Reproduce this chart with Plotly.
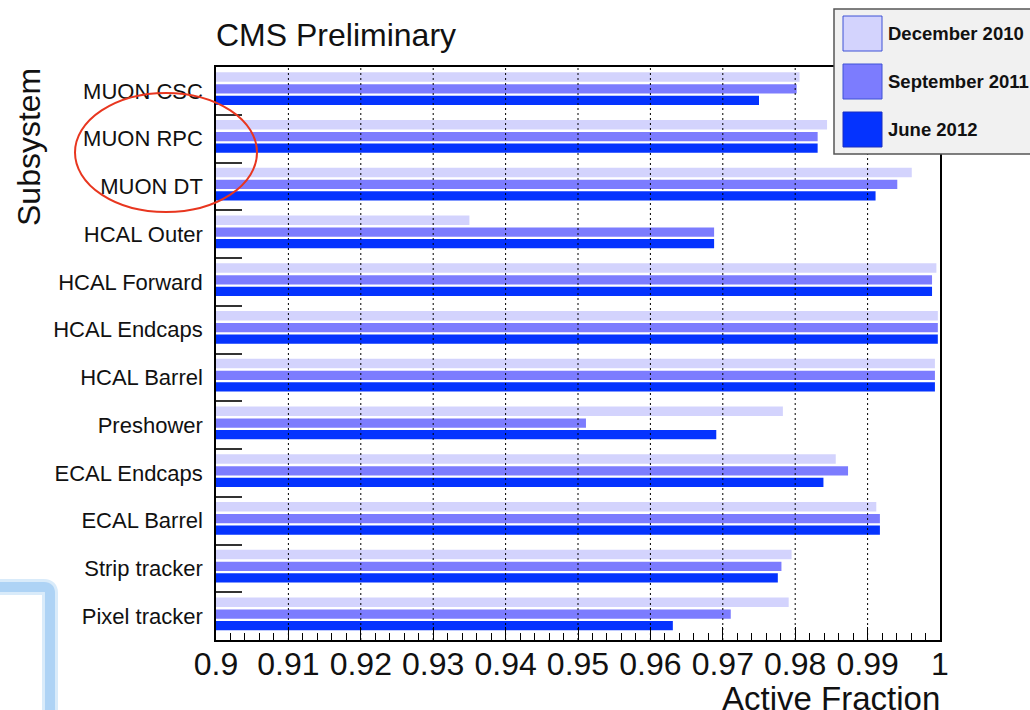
import plotly.graph_objects as go

# Subsystems, listed bottom to top
SUBSYSTEMS = [
    "Pixel tracker", "Strip tracker", "ECAL Barrel", "ECAL Endcaps",
    "Preshower", "HCAL Barrel", "HCAL Endcaps", "HCAL Forward",
    "HCAL Outer", "MUON DT", "MUON RPC", "MUON CSC",
]

# Active fraction per subsystem for each period
DEC_2010 = [0.9791, 0.9795, 0.9912, 0.9856, 0.9783, 0.9993, 0.9997, 0.9995,
            0.9350, 0.9961, 0.9844, 0.9806]
SEP_2011 = [0.9711, 0.9781, 0.9917, 0.9873, 0.9511, 0.9993, 0.9997, 0.9989,
            0.9688, 0.9941, 0.9831, 0.9802]
JUN_2012 = [0.9631, 0.9776, 0.9917, 0.9839, 0.9691, 0.9993, 0.9997, 0.9989,
            0.9688, 0.9911, 0.9831, 0.9750]

SERIES_NAMES = ["December 2010", "September 2011", "June 2012"]
SERIES_COLORS = ["#d3d3fd", "#7c7cfe", "#0533fe"]
SERIES_EDGES = ["#3f52d6", "#3f52d6", "#1b2fc0"]

X_TICKS = [0.90, 0.91, 0.92, 0.93, 0.94, 0.95, 0.96, 0.97, 0.98, 0.99, 1.00]
X_TICK_TEXT = ["0.9", "0.91", "0.92", "0.93", "0.94", "0.95", "0.96",
               "0.97", "0.98", "0.99", "1"]

FONT = "Liberation Sans, Arial, Helvetica, sans-serif"

# Figure / plot-area geometry in pixels
FIG_W, FIG_H = 1030, 710
L, R, T, B = 216, 940, 67, 640
W, H = R - L, B - T


def px(x):
    return (x - L) / W


def py(y):
    return (B - y) / H


fig = go.Figure()

# bar width and position of each bar inside its category band
BAR_W = 0.195
OFFSETS = [0.193, -0.057, -0.297]
for name, vals, col, off in zip(SERIES_NAMES, [DEC_2010, SEP_2011, JUN_2012],
                                SERIES_COLORS, OFFSETS):
    fig.add_trace(go.Bar(
        name=name, y=SUBSYSTEMS, x=vals, orientation="h",
        width=BAR_W, offset=off,
        marker=dict(color=col, line=dict(width=0)),
        showlegend=False,
    ))

shapes = []

# dotted grid at the major ticks, drawn over the bars
for v in X_TICKS[1:-1]:
    shapes.append(dict(type="line", xref="x", yref="paper", x0=v, x1=v,
                       y0=0, y1=1, layer="above",
                       line=dict(color="black", width=1, dash="2px,3px")))

# red ellipse around the muon labels
shapes.append(dict(type="circle", xref="paper", yref="paper",
                   x0=px(75), x1=px(257), y0=py(212), y1=py(93),
                   line=dict(color="#e8361f", width=2)))

# pale blue frame in the lower-left corner
frame_path = "M {} {} L {} {} Q {} {} {} {} L {} {}".format(
    px(-5), py(587), px(44), py(587), px(50), py(587), px(50), py(593),
    px(50), py(720))
shapes.append(dict(type="path", xref="paper", yref="paper", path=frame_path,
                   line=dict(color="rgba(170,210,245,0.45)", width=16)))
shapes.append(dict(type="path", xref="paper", yref="paper", path=frame_path,
                   line=dict(color="#aed3f5", width=10)))

# legend box
shapes.append(dict(type="rect", xref="paper", yref="paper",
                   x0=px(834), x1=px(1036), y0=py(154), y1=py(9),
                   fillcolor="#f1f1f1", line=dict(color="#555555", width=1.5),
                   layer="above"))
annotations = []
for i, (name, col, edge) in enumerate(zip(SERIES_NAMES, SERIES_COLORS,
                                          SERIES_EDGES)):
    top = 16 + i * 48
    shapes.append(dict(type="rect", xref="paper", yref="paper",
                       x0=px(843), x1=px(882), y0=py(top + 35), y1=py(top),
                       fillcolor=col, line=dict(color=edge, width=1),
                       layer="above"))
    annotations.append(dict(
        text="<b>" + name + "</b>", xref="paper", yref="paper",
        x=px(886), y=py(top + 17.5), xanchor="left", yanchor="middle",
        showarrow=False, font=dict(family=FONT, size=18.5, color="#111111")))

annotations += [
    dict(text="CMS Preliminary", xref="paper", yref="paper",
         x=px(214), y=py(35), xanchor="left", yanchor="middle",
         showarrow=False, font=dict(family=FONT, size=32, color="#111111")),
    dict(text="Subsystem", xref="paper", yref="paper",
         x=px(29), y=py(66), xanchor="center", yanchor="top", textangle=-90,
         showarrow=False, font=dict(family=FONT, size=32, color="#111111")),
    dict(text="Active Fraction", xref="paper", yref="paper",
         x=px(942), y=py(698), xanchor="right", yanchor="middle",
         showarrow=False, font=dict(family=FONT, size=33, color="#111111")),
]

fig.update_layout(
    width=FIG_W, height=FIG_H,
    margin=dict(l=L, r=FIG_W - R, t=T, b=FIG_H - B, pad=0),
    paper_bgcolor="white", plot_bgcolor="white",
    barmode="overlay",
    font=dict(family=FONT, color="#111111"),
    shapes=shapes, annotations=annotations,
    showlegend=False,
)

fig.update_xaxes(
    range=[0.9, 1.0], tickvals=X_TICKS, ticktext=X_TICK_TEXT,
    showgrid=False, zeroline=False,
    ticks="inside", ticklen=13, tickwidth=1, tickcolor="black",
    minor=dict(dtick=0.002, ticks="inside", ticklen=7, tickwidth=1,
               tickcolor="black", showgrid=False),
    showline=True, linecolor="black", linewidth=1.5, mirror=True,
    tickfont=dict(family=FONT, size=32, color="#111111"),
    ticklabelstandoff=-5,
    layer="above traces",
)

fig.update_yaxes(
    type="category", categoryorder="array", categoryarray=SUBSYSTEMS,
    range=[-0.5, len(SUBSYSTEMS) - 0.5],
    tickson="boundaries", ticks="inside", ticklen=26, tickwidth=1.5,
    tickcolor="#333333", showgrid=False, zeroline=False,
    showline=True, linecolor="black", linewidth=1.5, mirror=True,
    tickfont=dict(family=FONT, size=22, color="#111111"),
    ticklabelstandoff=7,
)

fig.write_html("out.html")
